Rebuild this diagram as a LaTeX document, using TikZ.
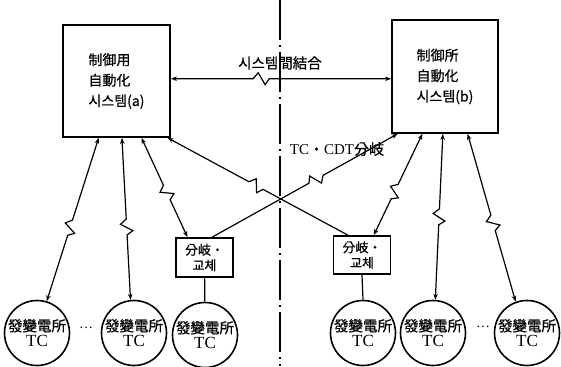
\documentclass[tikz,border=0pt]{standalone}
\usepackage{fontspec}
\setmainfont{Liberation Serif}
\newfontfamily\cjk[FakeBold=0.6]{Noto Sans CJK KR}
\usetikzlibrary{calc,arrows.meta}
\newcommand{\zigline}[5]{%
  \draw[conn,#1] (#2) -- ($(#2)!#4!(#3)!-8pt!(#3)$) -- ($(#2)!#4!(#3)!-3pt!(#3)!6pt!#5:(#3)$) -- ($(#2)!#4!(#3)!4pt!(#3)!-6pt!#5:(#3)$) -- ($(#2)!#4!(#3)!8pt!(#3)$) -- (#3);}
\begin{document}
\begin{tikzpicture}[x=1pt,y=-1pt,
  >={Stealth[length=6pt,width=4.5pt]},
  conn/.style={line width=1.2pt},
  sysbox/.style={draw,line width=1.7pt,inner sep=0pt,align=left,font=\cjk\fontsize{14}{20.5}\selectfont},
  brbox/.style={draw,line width=1.7pt,inner sep=0pt,minimum width=57pt,minimum height=38pt,align=center,font=\cjk\fontsize{13}{15.5}\selectfont},
  stn/.style={draw,circle,line width=1.6pt,inner sep=0pt,minimum size=65pt,align=center,font=\fontsize{17}{15.5}\selectfont},
  dashln/.style={line width=1.2pt,dash pattern=on 40pt off 5pt on 2pt off 5pt}]
\useasboundingbox (0,0) rectangle (561,366);
\fill[white] (0,0) rectangle (561,366);
\draw[dashln] (280,0) -- (280,366);
% system boxes
\node[sysbox,minimum width=107pt,minimum height=112pt] (A) at (116.5,81) {制御用\\自動化\\시스템(a)};
\node[sysbox,minimum width=106pt,minimum height=113pt] (B) at (445,76.5) {制御所\\自動化\\시스템(b)};
% branch boxes
\node[brbox,minimum height=39pt] (LB) at (204.5,257.5) {分岐・\\교체};
\node[brbox] (RB) at (362,255) {分岐・\\교체};
% stations
\foreach \n/\x/\y in {c1/37/333,c2/134/333,c3/205/335,c4/363/333,c5/433/333,c6/527/333}{
  \node[stn] (\n) at (\x,\y) {{\cjk\fontsize{14.5}{15.5}\selectfont 發變電所}\\TC};
}
\node[font=\fontsize{14}{14}\selectfont] (d1) at (86,328) {…};
\node[font=\fontsize{14}{14}\selectfont] (d2) at (483,327) {…};
% labels
\node[font=\cjk\fontsize{14.5}{14.5}\selectfont] (lab1) at (280,63) {시스템間結合};
\node[font=\fontsize{15}{15}\selectfont] (lab2) at (337,149) {TC{\cjk ・}CDT{\cjk 分岐}};
% attach points
\coordinate (ae) at ($(A.north east)!0.48!(A.south east)$);
\coordinate (bw) at ($(B.north west)!0.52!(B.south west)$);
\coordinate (a1) at ($(A.south west)!0.336!(A.south east)$);
\coordinate (a2) at ($(A.south west)!0.55!(A.south east)$);
\coordinate (a3) at ($(A.south west)!0.73!(A.south east)$);
\coordinate (a4) at ($(A.south west)!0.97!(A.south east)$);
\coordinate (b1) at ($(B.south west)!0.06!(B.south east)$);
\coordinate (b2) at ($(B.south west)!0.29!(B.south east)$);
\coordinate (b3) at ($(B.south west)!0.48!(B.south east)$);
\coordinate (b4) at ($(B.south west)!0.71!(B.south east)$);
\coordinate (l1) at ($(LB.north west)!0.21!(LB.north east)$);
\coordinate (l2) at ($(LB.north west)!0.63!(LB.north east)$);
\coordinate (r1) at ($(RB.north west)!0.26!(RB.north east)$);
\coordinate (r2) at ($(RB.north west)!0.7!(RB.north east)$);
% connectors
\zigline{<->}{ae}{bw}{0.41}{90}
\zigline{<->}{a1}{c1.73}{0.55}{-90}
\zigline{<->}{a2}{c2.96}{0.55}{-90}
\zigline{<->}{a3}{l1}{0.55}{-90}
\zigline{<-}{a4}{r1}{0.49}{90}
\zigline{<-}{b1}{l2}{0.44}{90}
\zigline{<->}{b2}{r2}{0.57}{-90}
\zigline{<->}{b3}{c5.86}{0.5}{-90}
\zigline{<->}{b4}{c6.110}{0.53}{-90}
\draw[conn] (LB) -- (c3);
\draw[conn] (RB.south) -- (c4.north);
\end{tikzpicture}
\end{document}
